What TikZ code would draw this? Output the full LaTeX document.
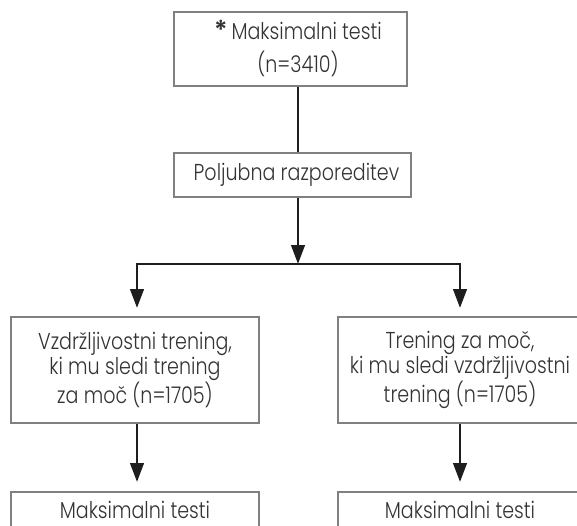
\documentclass[tikz,border=0pt]{standalone}
\usepackage{fontspec}
\setmainfont{Poppins Light}[FakeStretch=0.83]
\newfontfamily\boldast{Poppins SemiBold}
\usetikzlibrary{arrows.meta}
\definecolor{txt}{HTML}{333333}
\definecolor{edge}{HTML}{808080}
\definecolor{ink}{HTML}{1E1E1E}
\tikzset{
  box/.style={draw=edge, line width=1.1pt, rectangle, align=center, inner sep=0pt,
     font=\fontsize{23}{25}\selectfont, text=txt},
  lbl/.style={inner sep=0pt, font=\fontsize{23}{25}\selectfont, text=txt, anchor=base},
  conn/.style={line width=2.8pt, ink, line join=miter},
  arr/.style={conn, -{Triangle[length=19pt,width=13.5pt]}},
}
\begin{document}
\begin{tikzpicture}[x=1pt,y=1pt]
\useasboundingbox (0,0) rectangle (577,-525);
\clip (0,0) rectangle (577,-525);
% boxes
\node[box, minimum width=233pt, minimum height=74pt, font=\fontsize{23}{33}\selectfont] (top) at (290.5,-49) {\hspace*{15pt}{\boldast\fontsize{26}{26}\selectfont *}\,Maksimalni testi\\\hspace*{15pt}(n=3410)};
\node[box, minimum width=237pt, minimum height=44pt] (rand) at (292.5,-175) {\hspace*{8pt}Poljubna razporeditev};
\node[box, minimum width=248pt, minimum height=106pt] (left) at (135,-370) {Vzdržljivostni trening,\\ki mu sledi trening\\za moč (n=1705)};
\node[box, minimum width=244pt, minimum height=106pt] (right) at (460,-370) {Trening za moč,\\ki mu sledi vzdržljivostni\\trening (n=1705)};
% bottom boxes (cut off by the picture's lower edge)
\draw[draw=edge, line width=1.1pt] (11,-560) |- (259,-492) -- (259,-560);
\draw[draw=edge, line width=1.1pt] (338,-560) |- (582,-492) -- (582,-560);
\node[lbl] (lbot) at (135,-518) {Maksimalni testi};
\node[lbl] (rbot) at (460,-518) {Maksimalni testi};
% connector points
\coordinate (c) at (298,-264);
\coordinate (lt) at (137,-308);
\coordinate (rt) at (460,-308);
\coordinate (lb) at (137,-482);
\coordinate (rb) at (460,-482);
% connectors
\draw[conn] (top.south -| c) -- (rand.north -| c);
\draw[arr] (rand.south -| c) -- (c);
\draw[arr] (c) -| (lt);
\draw[arr] (c) -| (rt);
\draw[arr] (left.south -| lb) -- (lb);
\draw[arr] (right.south -| rb) -- (rb);
\end{tikzpicture}
\end{document}
